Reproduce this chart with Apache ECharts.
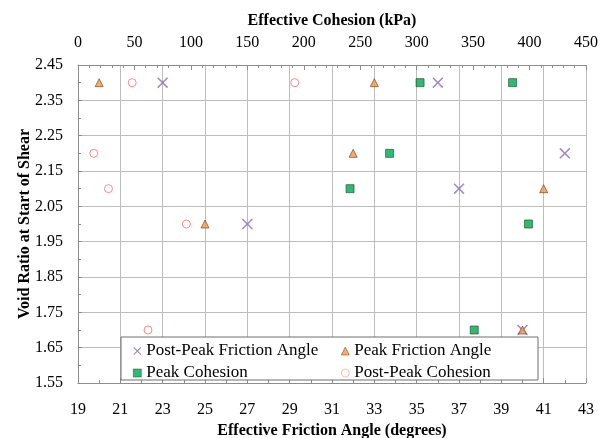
<!DOCTYPE html>
<html>
<head>
<meta charset="utf-8">
<script src="https://cdn.jsdelivr.net/npm/echarts@6/dist/echarts.min.js"></script>
<style>
  html, body { margin: 0; padding: 0; background: #fff; }
  #main { width: 600px; height: 438px; }
</style>
</head>
<body>
<div id="main"></div>
<script>
// friction angles (degrees), bottom axis
const postPeakFriction = [23, 36, 42, 37, 27, 40];
const peakFriction = [20, 33, 32, 41, 25, 40];
// cohesion (kPa), top axis
const peakCohesion = [303, 385, 276, 241, 399, 351];
const postPeakCohesion = [48, 192, 14, 27, 96, 62];
// void ratio at start of shear for each point above
const vrPostPeakFriction = [2.4, 2.4, 2.2, 2.1, 2.0, 1.7];
const vrPeakFriction = [2.4, 2.4, 2.2, 2.1, 2.0, 1.7];
const vrPeakCohesion = [2.4, 2.4, 2.2, 2.1, 2.0, 1.7];
const vrPostPeakCohesion = [2.4, 2.4, 2.2, 2.1, 2.0, 1.7];

const FONT = 'Liberation Serif';

function pairs(xs, ys) {
  return xs.map((x, i) => [x, ys[i]]);
}

const crossPath = 'path://M0,1L1,0L5,4L9,0L10,1L6,5L10,9L9,10L5,6L1,10L0,9L4,5Z';

let chart = echarts.init(document.getElementById('main'));
chart.setOption({
  animation: false,
  backgroundColor: '#fff',
  textStyle: { fontFamily: FONT },
  grid: { left: 78, right: 14, top: 65, bottom: 55, outerBoundsMode: 'none', containLabel: false },
  xAxis: [
    {
      type: 'value',
      position: 'bottom',
      min: 19, max: 43, interval: 2,
      name: 'Effective Friction Angle (degrees)',
      nameLocation: 'middle',
      nameGap: 40,
      nameTextStyle: { fontFamily: FONT, fontSize: 16, fontWeight: 'bold', color: '#000' },
      axisLine: { show: true, lineStyle: { color: '#8c8c8c' } },
      axisTick: { show: true, inside: true, length: 5, lineStyle: { color: '#8c8c8c' } },
      minorTick: { show: true, splitNumber: 2, length: 3, lineStyle: { color: '#8c8c8c' } },
      axisLabel: { fontFamily: FONT, fontSize: 16, color: '#000', margin: 19 },
      splitLine: { show: true, lineStyle: { color: '#bdbdbd', width: 1 } }
    },
    {
      type: 'value',
      position: 'top',
      min: 0, max: 450, interval: 50,
      name: 'Effective Cohesion (kPa)',
      nameLocation: 'middle',
      nameGap: 36,
      nameTextStyle: { fontFamily: FONT, fontSize: 16, fontWeight: 'bold', color: '#000' },
      axisLine: { show: true, lineStyle: { color: '#8c8c8c' } },
      axisTick: { show: true, inside: true, length: 5, lineStyle: { color: '#8c8c8c' } },
      minorTick: { show: true, splitNumber: 5, length: 3, lineStyle: { color: '#8c8c8c' } },
      axisLabel: { fontFamily: FONT, fontSize: 16, color: '#000', margin: 14 },
      splitLine: { show: false }
    }
  ],
  yAxis: {
    type: 'value',
    min: 1.55, max: 2.45, interval: 0.1,
    name: 'Void Ratio at Start of Shear',
    nameLocation: 'middle',
    nameGap: 45,
    nameMoveOverlap: false,
    nameTextStyle: { fontFamily: FONT, fontSize: 16, fontWeight: 'bold', color: '#000' },
    axisLine: { show: true, lineStyle: { color: '#8c8c8c' } },
    axisTick: { show: true, inside: true, length: 4, lineStyle: { color: '#8c8c8c' } },
    minorTick: { show: true, splitNumber: 2, length: 3, lineStyle: { color: '#8c8c8c' } },
    axisLabel: {
      fontFamily: FONT, fontSize: 16, color: '#000', margin: 15,
      formatter: v => v.toFixed(2)
    },
    splitLine: { show: true, lineStyle: { color: '#bdbdbd', width: 1 } }
  },
  graphic: [
    {
      type: 'rect', z: 3,
      shape: { x: 121, y: 337, width: 417, height: 43 },
      style: { fill: '#fff', stroke: '#6e6e6e', lineWidth: 1 }
    }
  ],
  legend: [
    {
      orient: 'vertical', left: 128, top: 336, z: 5,
      itemWidth: 8, itemHeight: 8, itemGap: 2,
      itemStyle: { borderWidth: 0.6 },
      textStyle: { fontFamily: FONT, fontSize: 17, color: '#000', lineHeight: 20 },
      data: ['Post-Peak Friction Angle', 'Peak Cohesion']
    },
    {
      orient: 'vertical', left: 336, top: 336, z: 5,
      itemWidth: 8, itemHeight: 8, itemGap: 2,
      itemStyle: { borderWidth: 0.6 },
      textStyle: { fontFamily: FONT, fontSize: 17, color: '#000', lineHeight: 20 },
      data: ['Peak Friction Angle', 'Post-Peak Cohesion']
    }
  ],
  series: [
    {
      name: 'Post-Peak Friction Angle',
      type: 'scatter',
      xAxisIndex: 0,
      symbol: crossPath,
      symbolSize: 11,
      itemStyle: { color: '#8e6bb8' },
      data: pairs(postPeakFriction, vrPostPeakFriction)
    },
    {
      name: 'Peak Friction Angle',
      type: 'scatter',
      xAxisIndex: 0,
      symbol: 'triangle',
      symbolSize: 8,
      itemStyle: { color: '#f79646', borderColor: '#6b3a10', borderWidth: 0.8 },
      data: pairs(peakFriction, vrPeakFriction)
    },
    {
      name: 'Peak Cohesion',
      type: 'scatter',
      xAxisIndex: 1,
      symbol: 'rect',
      symbolSize: 8,
      itemStyle: { color: '#00a651', borderColor: '#1b4d2a', borderWidth: 0.8 },
      data: pairs(peakCohesion, vrPeakCohesion)
    },
    {
      name: 'Post-Peak Cohesion',
      type: 'scatter',
      xAxisIndex: 1,
      symbol: 'circle',
      symbolSize: 8,
      itemStyle: { color: '#fff', borderColor: '#ff6b6b', borderWidth: 1 },
      data: pairs(postPeakCohesion, vrPostPeakCohesion)
    }
  ]
});
</script>
</body>
</html>
